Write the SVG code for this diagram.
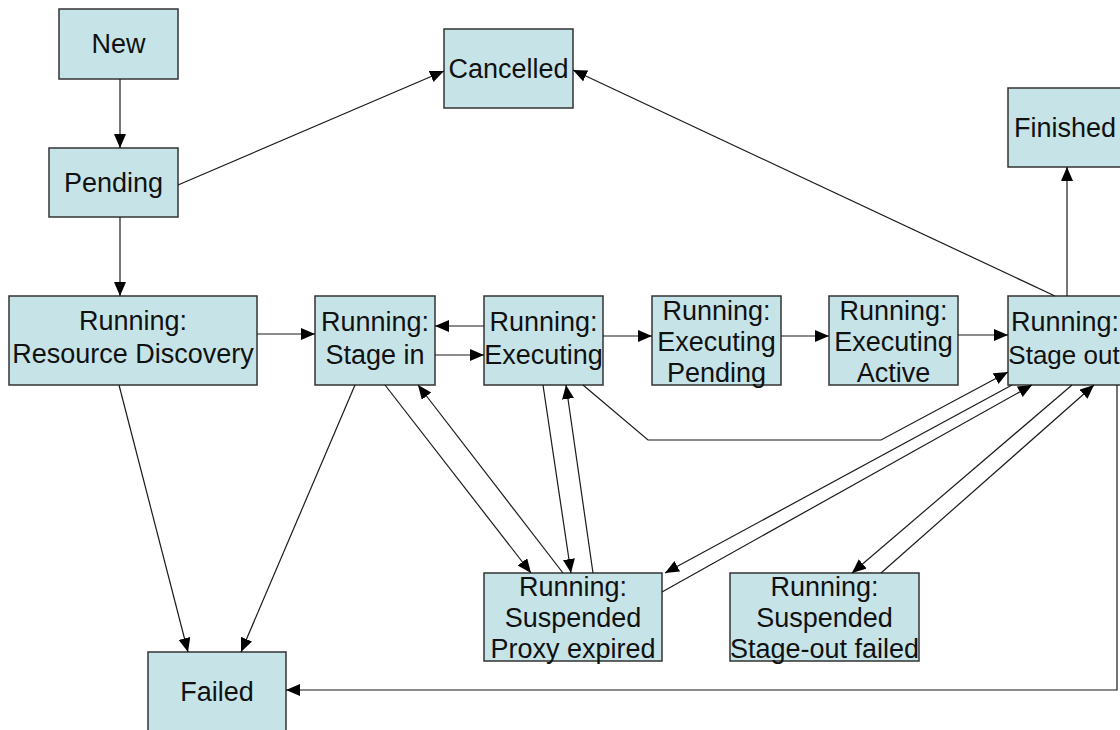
<svg xmlns="http://www.w3.org/2000/svg" width="1120" height="730" viewBox="0 0 1120 730">
  <style>
    .box { fill: #c6e4e8; stroke: #333; stroke-width: 1.5; }
    .lbl { font-family: "Liberation Sans", Arial, sans-serif; font-size: 27px; fill: #111; text-anchor: middle; }
    .edge { fill: none; stroke: #1a1a1a; stroke-width: 1.2; marker-end: url(#arrow); }
  </style>
  <defs>
    <marker id="arrow" markerUnits="userSpaceOnUse" markerWidth="15" markerHeight="13" refX="14" refY="6" orient="auto">
      <path d="M0,0 L14,6 L0,12 Z" fill="#000"/>
    </marker>
  </defs>
  <rect width="1120" height="730" fill="#fff"/>

  <!-- state nodes -->
  <g id="new">
    <rect class="box" x="59" y="9" width="119" height="70"/>
    <text class="lbl" x="118.5" y="53">New</text>
  </g>
  <g id="pending">
    <rect class="box" x="49" y="148" width="129" height="69"/>
    <text class="lbl" x="113.5" y="192">Pending</text>
  </g>
  <g id="cancelled">
    <rect class="box" x="444" y="29" width="129" height="79"/>
    <text class="lbl" x="508.5" y="78">Cancelled</text>
  </g>
  <g id="finished">
    <rect class="box" x="1008" y="88" width="120" height="79"/>
    <text class="lbl" x="1065" y="137">Finished</text>
  </g>
  <g id="resource-discovery">
    <rect class="box" x="9" y="296" width="248" height="89"/>
    <text class="lbl" x="133" y="330">Running:</text>
    <text class="lbl" x="133" y="363">Resource Discovery</text>
  </g>
  <g id="stage-in">
    <rect class="box" x="315" y="296" width="120" height="89"/>
    <text class="lbl" x="375" y="331">Running:</text>
    <text class="lbl" x="375" y="364">Stage in</text>
  </g>
  <g id="executing">
    <rect class="box" x="484" y="296" width="119" height="89"/>
    <text class="lbl" x="543.5" y="331">Running:</text>
    <text class="lbl" x="543.5" y="364">Executing</text>
  </g>
  <g id="executing-pending">
    <rect class="box" x="652" y="296" width="129" height="89"/>
    <text class="lbl" x="716.5" y="320">Running:</text>
    <text class="lbl" x="716.5" y="351">Executing</text>
    <text class="lbl" x="716.5" y="382">Pending</text>
  </g>
  <g id="executing-active">
    <rect class="box" x="829" y="296" width="129" height="89"/>
    <text class="lbl" x="893.5" y="320">Running:</text>
    <text class="lbl" x="893.5" y="351">Executing</text>
    <text class="lbl" x="893.5" y="382">Active</text>
  </g>
  <g id="stage-out">
    <rect class="box" x="1008" y="296" width="120" height="89"/>
    <text class="lbl" x="1065" y="331">Running:</text>
    <text class="lbl" x="1064" y="364" style="font-size:26px">Stage out</text>
  </g>
  <g id="suspended-proxy">
    <rect class="box" x="484" y="573" width="178" height="88"/>
    <text class="lbl" x="573" y="596">Running:</text>
    <text class="lbl" x="573" y="627">Suspended</text>
    <text class="lbl" x="573" y="658">Proxy expired</text>
  </g>
  <g id="suspended-stageout">
    <rect class="box" x="730" y="573" width="189" height="88"/>
    <text class="lbl" x="824.5" y="596">Running:</text>
    <text class="lbl" x="824.5" y="627">Suspended</text>
    <text class="lbl" x="824.5" y="658">Stage-out failed</text>
  </g>
  <g id="failed">
    <rect class="box" x="148" y="652" width="138" height="80"/>
    <text class="lbl" x="217" y="701">Failed</text>
  </g>

  <!-- transitions -->
  <g id="connectors">
    <line class="edge" x1="120" y1="79" x2="120" y2="148"/>
    <line class="edge" x1="120" y1="217" x2="120" y2="296"/>
    <line class="edge" x1="178" y1="185" x2="444" y2="71"/>
    <line class="edge" x1="1055" y1="296" x2="573" y2="70"/>
    <line class="edge" x1="1067" y1="296" x2="1067" y2="167"/>
    <line class="edge" x1="257" y1="334" x2="315" y2="334"/>
    <line class="edge" x1="484" y1="326" x2="435" y2="326"/>
    <line class="edge" x1="435" y1="355" x2="484" y2="355"/>
    <line class="edge" x1="603" y1="336" x2="652" y2="336"/>
    <line class="edge" x1="781" y1="336" x2="829" y2="336"/>
    <line class="edge" x1="958" y1="335" x2="1008" y2="335"/>
    <line class="edge" x1="119" y1="385" x2="188" y2="652"/>
    <line class="edge" x1="355" y1="385" x2="241" y2="652"/>
    <line class="edge" x1="385" y1="385" x2="531" y2="573"/>
    <line class="edge" x1="563" y1="573" x2="418" y2="385"/>
    <line class="edge" x1="543" y1="385" x2="571" y2="573"/>
    <line class="edge" x1="593" y1="573" x2="566" y2="385"/>
    <polyline class="edge" points="583,385 648,440 881,440 1008,372"/>
    <line class="edge" x1="1012" y1="385" x2="665" y2="573"/>
    <line class="edge" x1="662" y1="592" x2="1032" y2="385"/>
    <line class="edge" x1="1072" y1="385" x2="852" y2="573"/>
    <line class="edge" x1="881" y1="573" x2="1094" y2="385"/>
    <polyline class="edge" points="1117,385 1117,690 286,690"/>
  </g>
</svg>
